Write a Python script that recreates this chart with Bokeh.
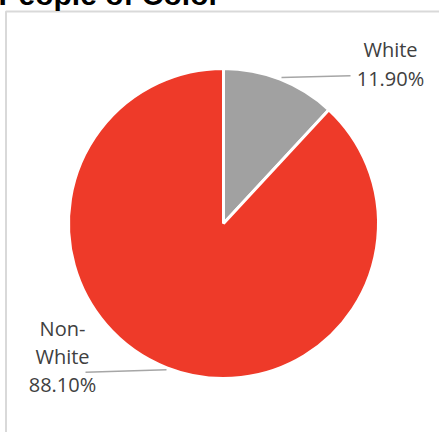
import math
from bokeh.plotting import figure
from bokeh.models import Range1d, ColumnDataSource
from bokeh.core.properties import value
from bokeh.embed import file_html
from bokeh.resources import INLINE

# ---- data ----
title_text = "People of Color"
categories = ["White", "Non-White"]
values = [11.90, 88.10]
colors = ["#A1A1A1", "#EE3A29"]

W, H = 439, 432
OFF = 8
p = figure(width=W + OFF, height=H + OFF, output_backend="svg", toolbar_location=None,
           x_range=Range1d(-OFF, W), y_range=Range1d(-H, OFF),
           min_border=0, outline_line_color=None,
           styles={"margin-left": "-8px", "margin-top": "-8px"})
p.axis.visible = False
p.grid.visible = False
p.background_fill_color = "white"
p.border_fill_color = "white"

# chart-area border
p.line([5.5, 5.5, W + 10], [-H - 10, -11, -11], line_color="#D9D9D9", line_width=2)

# title (partly cut off by the top edge)
p.text(x=[-2], y=[6], text=[title_text], text_font=value("Liberation Sans"),
       text_font_style="bold", text_font_size="30px", text_color="black",
       text_align="left", text_baseline="alphabetic")

# pie
cx, cy, r = 223, -223, 155
total = sum(values)
starts, ends = [], []
end = math.pi / 2
for v in values:
    sweep = v / total * 2 * math.pi
    starts.append(end - sweep)
    ends.append(end)
    end = end - sweep
src = ColumnDataSource(dict(cat=categories, val=values, start=starts, end=ends, color=colors))
p.wedge(x=cx, y=cy, radius=r, start_angle="start", end_angle="end",
        direction="anticlock", fill_color="color", line_color="white",
        line_width=3, source=src)

# leader lines
p.line([281, 350], [-77, -75.3], line_color="#A6A6A6", line_width=1.5)
p.line([85, 166], [-371.7, -369.3], line_color="#A6A6A6", line_width=1.5)

# labels
font = value("Open Sans")
lab_col = "#404040"
p.text(x=[390, 390], y=[-49, -78], text=[categories[0], f"{values[0]:.2f}%"],
       text_font=font, text_font_size="20px", text_color=lab_col,
       text_align="center", text_baseline="middle")
p.text(x=[62, 62, 62], y=[-328, -356, -384],
       text=["Non-", "White", f"{values[1]:.2f}%"],
       text_font=font, text_font_size="20px", text_color=lab_col,
       text_align="center", text_baseline="middle")

open("out.html", "w").write(file_html(p, INLINE))
